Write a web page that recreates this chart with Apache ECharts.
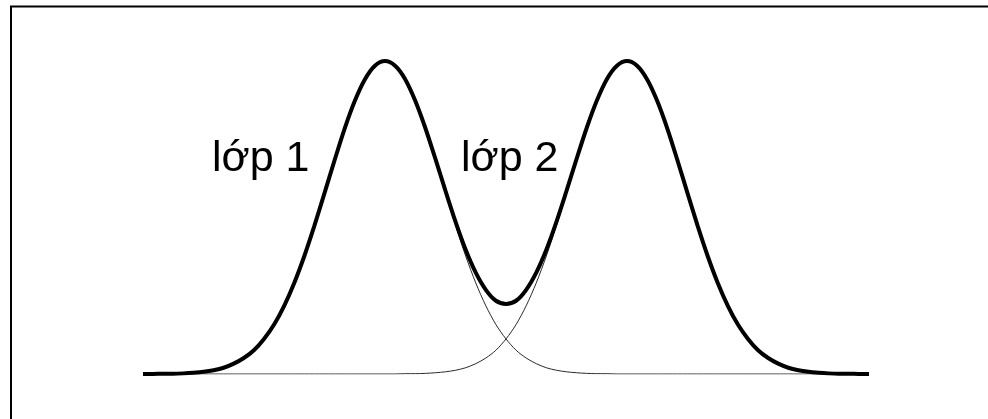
<!DOCTYPE html>
<html>
<head>
<meta charset="utf-8">
<script src="https://cdn.jsdelivr.net/npm/echarts@6/dist/echarts.min.js"></script>
<style>
  html, body { margin: 0; padding: 0; background: #fff; }
  #chart { width: 988px; height: 419px; }
</style>
</head>
<body>
<div id="chart"></div>
<script>
// Sample positions along the horizontal axis
const positions = [
  0, 1, 2, 3, 4, 5, 6, 7, 8, 9, 10, 11, 12, 13, 14, 15, 16, 17, 18, 19, 20, 21, 22, 23, 24,
  25, 26, 27, 28, 29, 30, 31, 32, 33, 34, 35, 36, 37, 38, 39, 40, 41, 42, 43, 44, 45, 46, 47, 48,
  49, 50, 51, 52, 53, 54, 55, 56, 57, 58, 59, 60, 61, 62, 63, 64, 65, 66, 67, 68, 69, 70, 71, 72
];

// Density of class 1 (thin curve, left hump)
const class1 = [
  0.000, 0.000, 0.001, 0.001, 0.002, 0.004, 0.007, 0.012, 0.020, 0.033, 0.051, 0.076, 0.112,
  0.158, 0.218, 0.291, 0.377, 0.474, 0.578, 0.683, 0.784, 0.872, 0.941, 0.985, 1.000,
  0.985, 0.941, 0.872, 0.784, 0.683, 0.578, 0.474, 0.377, 0.291, 0.218, 0.158, 0.112,
  0.076, 0.051, 0.033, 0.020, 0.012, 0.007, 0.004, 0.002, 0.001, 0.001, 0.000, 0.000,
  0.000, 0.000, 0.000, 0.000, 0.000, 0.000, 0.000, 0.000, 0.000, 0.000, 0.000, 0.000,
  0.000, 0.000, 0.000, 0.000, 0.000, 0.000, 0.000, 0.000, 0.000, 0.000, 0.000, 0.000
];

// Density of class 2 (thin curve, right hump)
const class2 = [
  0.000, 0.000, 0.000, 0.000, 0.000, 0.000, 0.000, 0.000, 0.000, 0.000, 0.000, 0.000, 0.000,
  0.000, 0.000, 0.000, 0.000, 0.000, 0.000, 0.000, 0.000, 0.000, 0.000, 0.000, 0.000,
  0.000, 0.001, 0.001, 0.002, 0.004, 0.007, 0.012, 0.020, 0.033, 0.051, 0.076, 0.112,
  0.158, 0.218, 0.291, 0.377, 0.474, 0.578, 0.683, 0.784, 0.872, 0.941, 0.985, 1.000,
  0.985, 0.941, 0.872, 0.784, 0.683, 0.578, 0.474, 0.377, 0.291, 0.218, 0.158, 0.112,
  0.076, 0.051, 0.033, 0.020, 0.012, 0.007, 0.004, 0.002, 0.001, 0.001, 0.000, 0.000
];

// Combined density of both classes (thick outline)
const combined = [
  0.000, 0.000, 0.001, 0.001, 0.002, 0.004, 0.007, 0.012, 0.020, 0.033, 0.051, 0.076, 0.112,
  0.158, 0.218, 0.291, 0.377, 0.474, 0.578, 0.683, 0.784, 0.872, 0.941, 0.985, 1.000,
  0.985, 0.942, 0.873, 0.786, 0.687, 0.585, 0.486, 0.397, 0.324, 0.269, 0.234, 0.224,
  0.234, 0.269, 0.324, 0.397, 0.486, 0.585, 0.687, 0.786, 0.873, 0.942, 0.985, 1.000,
  0.985, 0.941, 0.872, 0.784, 0.683, 0.578, 0.474, 0.377, 0.291, 0.218, 0.158, 0.112,
  0.076, 0.051, 0.033, 0.020, 0.012, 0.007, 0.004, 0.002, 0.001, 0.001, 0.000, 0.000
];

// Class labels
const labels = ['lớp 1', 'lớp 2'];

const chart = echarts.init(document.getElementById('chart'), null, { renderer: 'canvas' });

const thinStyle = { color: '#2a2a2a', width: 1 };

chart.setOption({
  animation: false,
  backgroundColor: '#ffffff',
  grid: { left: 143, top: 61, width: 726, height: 313, containLabel: false },
  xAxis: {
    type: 'category',
    data: positions,
    boundaryGap: false,
    show: false
  },
  yAxis: {
    type: 'value',
    min: 0,
    max: 1,
    show: false
  },
  series: [
    {
      name: labels[0],
      type: 'line',
      data: class1,
      showSymbol: false,
      smooth: 0.3,
      lineStyle: thinStyle,
      z: 2
    },
    {
      name: labels[1],
      type: 'line',
      data: class2,
      showSymbol: false,
      smooth: 0.3,
      lineStyle: thinStyle,
      z: 2
    },
    {
      name: 'tổng',
      type: 'line',
      data: combined,
      showSymbol: false,
      smooth: 0.3,
      lineStyle: { color: '#000', width: 4 },
      z: 3
    }
  ],
  graphic: [
    {
      // frame: only the left and top edges fall inside the canvas
      type: 'rect',
      shape: { x: 11, y: 6.5, width: 1000, height: 500 },
      style: { fill: null, stroke: '#000', lineWidth: 2 },
      silent: true
    },
    {
      type: 'text',
      x: 212,
      y: 138,
      style: {
        text: labels[0],
        font: '43px "Liberation Sans", Arial, sans-serif',
        fill: '#000',
        verticalAlign: 'top'
      }
    },
    {
      type: 'text',
      x: 461,
      y: 138,
      style: {
        text: labels[1],
        font: '43px "Liberation Sans", Arial, sans-serif',
        fill: '#000',
        verticalAlign: 'top'
      }
    }
  ]
});
</script>
</body>
</html>
